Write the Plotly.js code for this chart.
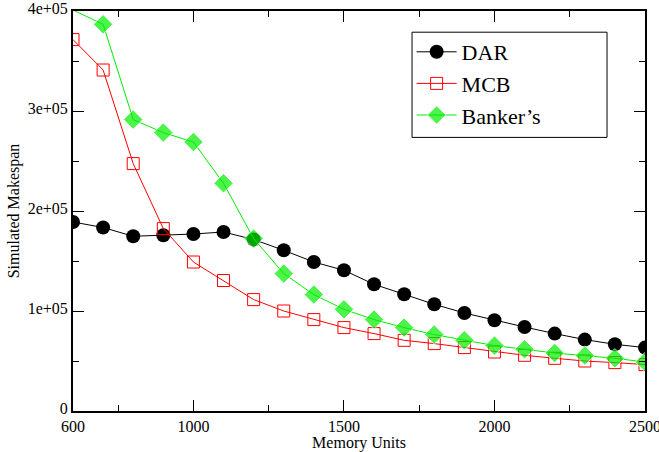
<!DOCTYPE html>
<html>
<head>
<meta charset="utf-8">
<script src="https://cdn.plot.ly/plotly-3.0.1.min.js"></script>
<style>html,body{margin:0;padding:0;background:#fff}#chart{width:659px;height:452px}</style>
</head>
<body>
<div id="chart"></div>
<script>
const memoryUnits = [600,700,800,900,1000,1100,1200,1300,1400,1500,1600,1700,1800,1900,2000,2100,2200,2300,2400,2500];
const darValues = [189000,183500,174700,175700,177000,179000,171500,160700,149000,140700,126700,116700,106700,98000,90700,84000,77400,71400,66700,63400];
const mcbValues = [371400,341000,247400,182400,149000,130500,111400,100000,91400,83400,77400,70700,67400,63400,59000,55700,52700,50000,48400,46400];
const bankersValues = [401000,386700,291400,278400,269000,227700,172400,137400,116400,101700,91400,83400,76400,70700,65400,61700,58000,55400,52700,49000];
const seriesNames = ["DAR","MCB","Banker\u2019s"];
const yTickVals = [0,100000,200000,300000,400000];
const yTickText = ["0","1e+05","2e+05","3e+05","4e+05"];
const xTickVals = [600,1000,1500,2000,2500];
const xTickText = ["600","1000","1500","2000","2500"];

const yMax = 400000;
function sizes(vals, s){ return vals.map(v => v > yMax ? 0 : s); }

const font = "Liberation Serif";
const traces = [
  {x: memoryUnits, y: darValues, name: seriesNames[0], mode: "lines+markers",
   line: {color: "#000000", width: 1}, marker: {symbol: "circle", size: 14, color: "#000000"}},
  {x: memoryUnits, y: mcbValues, name: seriesNames[1], mode: "lines+markers",
   line: {color: "#ff0000", width: 1}, marker: {symbol: "square-open", size: 12, color: "#ff0000", line: {width: 1, color: "#ff0000"}}},
  {x: memoryUnits, y: bankersValues, name: seriesNames[2], mode: "lines+markers",
   line: {color: "#00ee00", width: 1}, marker: {symbol: "diamond", size: sizes(bankersValues, 15), color: "#00ee00"}}
];
const axisCommon = {
  showgrid: false, zeroline: false, showline: true, linecolor: "#000", linewidth: 2,
  mirror: "allticks", ticks: "inside", ticklen: 11, tickwidth: 1, tickcolor: "#000",
  ticklabeloverflow: "allow",
  tickfont: {family: font, size: 16, color: "#000"},
  minor: {ticks: "inside", ticklen: 6, tickwidth: 1, tickcolor: "#000", showgrid: false}
};
const layout = {
  width: 659, height: 452,
  margin: {l: 73, r: 14, t: 11, b: 41},
  paper_bgcolor: "#fff", plot_bgcolor: "#fff",
  showlegend: true,
  legend: {x: 0.592, y: 0.95, xanchor: "left", yanchor: "top",
    borderwidth: 0, bgcolor: "rgba(0,0,0,0)",
    font: {family: font, size: 22, color: "#000"}, itemwidth: 40, tracegroupgap: 0},
  shapes: [{type: "rect", xref: "paper", yref: "paper", x0: 0.5927, x1: 0.9336, y0: 0.684, y1: 0.947,
    line: {color: "#000", width: 1}, fillcolor: "#fff", layer: "below"}],
  xaxis: Object.assign({}, axisCommon, {range: [600, 2500], tickvals: xTickVals, ticktext: xTickText,
    minor: Object.assign({}, axisCommon.minor, {tickvals: [750,1250,1750,2250]}),
    title: {text: "Memory Units", font: {family: font, size: 16, color: "#000"}, standoff: 2}}),
  yaxis: Object.assign({}, axisCommon, {range: [0, 400000], tickvals: yTickVals, ticktext: yTickText,
    ticklabelshift: -3,
    minor: Object.assign({}, axisCommon.minor, {tickvals: [50000,150000,250000,350000]}),
    title: {text: "Simulated Makespan", font: {family: font, size: 16, color: "#000"}, standoff: 4}})
};
Plotly.newPlot("chart", traces, layout, {displayModeBar: false, staticPlot: true});
</script>
</body>
</html>
